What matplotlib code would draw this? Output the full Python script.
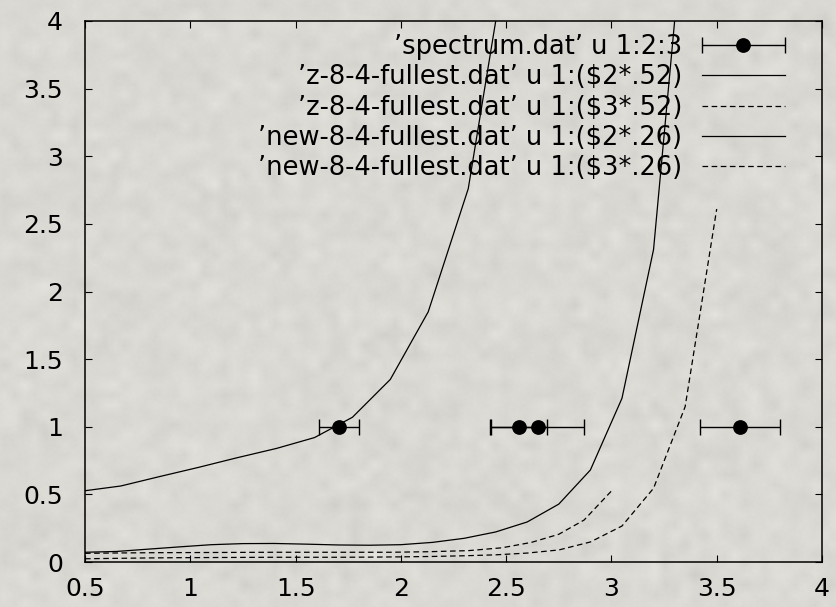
import numpy as np
import matplotlib
matplotlib.use("Agg")
import matplotlib.pyplot as plt
from matplotlib.container import ErrorbarContainer
from matplotlib.legend_handler import HandlerErrorbar

plt.rcParams['font.family'] = ['DejaVu Sans']

# measured spectrum: position, level, half-width
spec_x = [1.706, 2.559, 2.649, 3.609]
spec_y = [1.0, 1.0, 1.0, 1.0]
spec_xerr = [0.095, 0.135, 0.22, 0.19]

# z-8-4-fullest.dat, columns 2 and 3 already scaled by .52
z_x = [0.5, 0.67, 0.85, 1.04, 1.22, 1.41, 1.59, 1.77, 1.95, 2.13, 2.32,
       2.48, 2.62, 2.75, 2.87, 3.0]
z_col2 = [0.527, 0.562, 0.63, 0.70, 0.77, 0.84, 0.92, 1.07, 1.35, 1.85, 2.76,
          4.28, 7.0, 12.0, 20.0, 35.0]
z_col3 = [0.064, 0.067, 0.069, 0.070, 0.071, 0.072, 0.072, 0.072, 0.072, 0.076,
          0.084, 0.105, 0.145, 0.205, 0.31, 0.525]

# new-8-4-fullest.dat, columns 2 and 3 already scaled by .26
new_x = [0.5, 0.65, 0.8, 0.95, 1.1, 1.25, 1.4, 1.55, 1.7, 1.85, 2.0, 2.15,
         2.3, 2.45, 2.6, 2.75, 2.9, 3.05, 3.2, 3.35, 3.5]
new_col2 = [0.072, 0.078, 0.095, 0.112, 0.128, 0.136, 0.137, 0.132, 0.126,
            0.124, 0.128, 0.145, 0.175, 0.222, 0.296, 0.428, 0.68, 1.21, 2.31,
            4.84, 9.5]
new_col3 = [0.024, 0.027, 0.030, 0.032, 0.033, 0.034, 0.035, 0.035, 0.035,
            0.036, 0.038, 0.041, 0.046, 0.053, 0.066, 0.089, 0.148, 0.266,
            0.545, 1.148, 2.61]

labels = ["'spectrum.dat' u 1:2:3",
          "'z-8-4-fullest.dat' u 1:($2*.52)",
          "'z-8-4-fullest.dat' u 1:($3*.52)",
          "'new-8-4-fullest.dat' u 1:($2*.26)",
          "'new-8-4-fullest.dat' u 1:($3*.26)"]
labels = [s.replace("'", "\u2019") for s in labels]

W, H = 837, 607
fig = plt.figure(figsize=(W / 100, H / 100), dpi=100)

# paper-like grey backdrop with soft mottling
rng = np.random.default_rng(7)
coarse = rng.normal(size=(H // 10 + 1, W // 10 + 1))
coarse = np.kron(coarse, np.ones((10, 10)))[:H, :W]
k = np.ones(11) / 11
coarse = np.apply_along_axis(lambda r: np.convolve(r, k, mode='same'), 1, coarse)
coarse = np.apply_along_axis(lambda c: np.convolve(c, k, mode='same'), 0, coarse)
fine = rng.normal(size=(H, W))
k3 = np.ones(3) / 3
fine = np.apply_along_axis(lambda r: np.convolve(r, k3, mode='same'), 1, fine)
fine = np.apply_along_axis(lambda c: np.convolve(c, k3, mode='same'), 0, fine)
tex = 3.5 * coarse + 1.6 * fine
base = np.array([219, 217, 212], dtype=float)
bg = np.clip(base[None, None, :] + tex[:, :, None], 0, 255) / 255.0
fig.figimage(bg, xo=0, yo=0, zorder=-10)

ax = fig.add_axes([85 / W, 45 / H, 737 / W, 541 / H])
ax.patch.set_alpha(0)

dash = (0, (4.5, 2.8))
eb = ax.errorbar(spec_x, spec_y, xerr=spec_xerr, fmt='o', color='black',
                 ms=9.6, capsize=5.5, elinewidth=1.0, capthick=1.0)
l1, = ax.plot(z_x, z_col2, color='black', lw=0.9)
l2, = ax.plot(z_x, z_col3, color='black', lw=0.9, linestyle=dash)
l3, = ax.plot(new_x, new_col2, color='black', lw=0.9)
l4, = ax.plot(new_x, new_col3, color='black', lw=0.9, linestyle=dash)

ax.set_xlim(0.5, 4)
ax.set_ylim(0, 4)
ax.set_xticks(np.arange(0.5, 4.01, 0.5))
ax.set_yticks(np.arange(0, 4.01, 0.5))
ax.set_xticklabels(['0.5', '1', '1.5', '2', '2.5', '3', '3.5', '4'])
ax.set_yticklabels(['0', '0.5', '1', '1.5', '2', '2.5', '3', '3.5', '4'])
ax.tick_params(axis='both', direction='in', length=5, width=0.8,
               top=True, right=True, labelsize=18, colors='black')
ax.tick_params(axis='x', pad=11)
ax.tick_params(axis='y', pad=16)
for sp in ax.spines.values():
    sp.set_linewidth(1.1)

hl = 3.25
leg = ax.legend([eb, l1, l2, l3, l4], labels, loc='upper right',
                bbox_to_anchor=(0.95, 0.976), frameon=False, markerfirst=False,
                fontsize=18.5, handlelength=hl, handletextpad=0.75,
                labelspacing=0.17, borderpad=0, borderaxespad=0, numpoints=1,
                handler_map={ErrorbarContainer: HandlerErrorbar(xerr_size=hl / 2)})

fig.savefig('out.png', dpi=100)
